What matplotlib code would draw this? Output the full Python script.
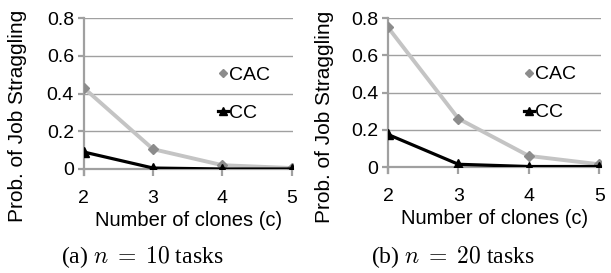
import numpy as np
from matplotlib import pyplot as plt

plt.rcParams['font.family'] = ['Liberation Sans', 'DejaVu Sans']
plt.rcParams['mathtext.fontset'] = 'cm'

clones = [2, 3, 4, 5]
cac10 = [0.43, 0.105, 0.02, 0.005]
cc10 = [0.09, 0.005, 0.0, 0.0]
cac20 = [0.75, 0.26, 0.06, 0.015]
cc20 = [0.175, 0.015, 0.003, 0.003]
yticks = [0, 0.2, 0.4, 0.6, 0.8]
ytick_labels = ['0', '0.2', '0.4', '0.6', '0.8']
captions = ['(a) $n\\;=\\;10$ tasks', '(b) $n\\;=\\;20$ tasks']
cap_x = [0.233, 0.741]

fig = plt.figure(figsize=(6.11, 2.73), dpi=100)

# axes boxes in figure fractions (left, bottom, width, height)
boxes = [[0.137, 0.381, 0.343, 0.553], [0.635, 0.388, 0.348, 0.546]]
ylab_pos = [(-0.27, 0.355), (-0.255, 0.335)]
series = [(cac10, cc10), (cac20, cc20)]
grid_c = '#a0a0a0'

for i in range(2):
  ax = fig.add_axes(boxes[i])
  cac, cc = series[i]
  ax.plot(clones, cac, '-', color='#c4c4c4', lw=2.8, zorder=3)
  ax.plot(clones, cac, 'D', color='#8c8c8c', ms=5, zorder=4, label='CAC')
  ax.plot(clones, cc, '^-', color='black', lw=2.3, ms=7, zorder=5, label='CC')

  ax.set_xlim(2, 5.02)
  ax.set_ylim(0, 0.8)
  ax.set_xticks(clones)
  ax.set_yticks(yticks)
  ax.set_yticklabels(ytick_labels)
  ax.yaxis.grid(True, color=grid_c, lw=1.0)
  ax.set_axisbelow(True)
  for s in ['top', 'right']:
    ax.spines[s].set_visible(False)
  ax.spines['left'].set_color(grid_c)
  ax.spines['bottom'].set_color(grid_c)
  ax.spines['left'].set_linewidth(1.6)
  ax.spines['bottom'].set_linewidth(1.6)
  ax.spines['left'].set_bounds(-0.03, 0.8)
  ax.tick_params(axis='x', direction='out', length=5, width=1.6, color=grid_c,
                 labelsize=14, pad=10)
  ax.tick_params(axis='y', direction='out', length=4, width=1.6, color=grid_c,
                 labelsize=14, pad=3)
  ax.set_xlabel('Number of clones (c)', fontsize=14.5, labelpad=3)
  ax.set_ylabel('Prob. of Job Straggling', fontsize=15)
  ax.yaxis.set_label_coords(*ylab_pos[i])
  ax.legend(loc='upper left', bbox_to_anchor=(0.595, 0.745), frameon=False,
            fontsize=14, handlelength=0.5, handletextpad=0.05, labelspacing=1.05,
            borderpad=0, markerscale=0.75)

  fig.text(cap_x[i], 0.059, captions[i], family='Liberation Serif', fontsize=17,
           ha='center', va='center')

fig.savefig('out.png', dpi=100)
